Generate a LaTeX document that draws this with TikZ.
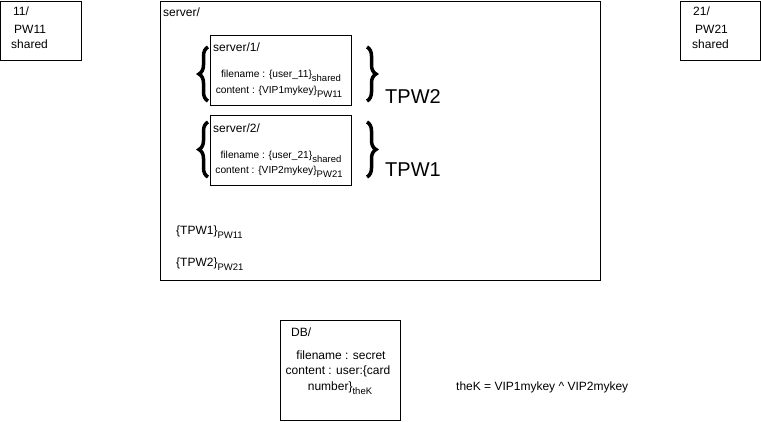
\documentclass[tikz,border=0pt]{standalone}
\usepackage{fontspec}
\setmainfont{Liberation Sans}
\usetikzlibrary{decorations.pathreplacing}

\tikzset{
  box/.style={draw,line width=1pt},
  txt/.style={inner sep=0pt,font=\fontsize{12}{14}\selectfont},
  small/.style={inner sep=0pt,font=\fontsize{10.2}{12}\selectfont},
  big/.style={inner sep=0pt,font=\fontsize{20}{24}\selectfont},
  curly/.style={decorate,decoration={brace,amplitude=9pt},line width=3.5pt},
}
\newcommand{\lowsub}[1]{\raisebox{-0.35em}{\fontsize{9.5}{11}\selectfont #1}}

\begin{document}
\begin{tikzpicture}[x=1pt,y=-1pt]
\useasboundingbox (0,0) rectangle (761,421);

%11
\draw[box] (0.5,1) rectangle (81,60);
\node[txt,anchor=west] (u11a) at (13,11) {11/};
\node[txt,anchor=west] (u11b) at (14,29) {PW11};
\node[txt,anchor=west] (u11c) at (11,44) {shared};

%21
\draw[box] (680.5,1) rectangle (760.5,60);
\node[txt,anchor=west] (u21a) at (693,11) {21/};
\node[txt,anchor=west] (u21b) at (695,29) {PW21};
\node[txt,anchor=west] (u21c) at (692,44) {shared};

%server
\draw[box] (160.5,1) rectangle (600.5,280.5);
\node[txt,anchor=west] (srv) at (163,12) {server/};

%server/1
\draw[box] (210.5,35.5) rectangle (351,105.5);
\node[txt,anchor=west] (s1) at (213,47) {server/1/};
\node[small] (s1f) at (281,76) {filename : \{user\_11\}\lowsub{shared}};
\node[small] (s1c) at (279,92) {content : \{VIP1mykey\}\lowsub{PW11}};
\draw[curly] (208,101) -- (208,47);
\draw[curly] (367,47) -- (367,101);
\node[big,anchor=west] (tpw2) at (385,97) {TPW2};

%server/2
\draw[box] (210.5,115.5) rectangle (351,185.5);
\node[txt,anchor=west] (s2) at (213,128) {server/2/};
\node[small] (s2f) at (281,157) {filename : \{user\_21\}\lowsub{shared}};
\node[small] (s2c) at (279,172) {content : \{VIP2mykey\}\lowsub{PW21}};
\draw[curly] (208,177) -- (208,122);
\draw[curly] (367,122) -- (367,177);
\node[big,anchor=west] (tpw1) at (385,170) {TPW1};

\node[txt,anchor=west] (k1) at (176,232) {\{TPW1\}\lowsub{PW11}};
\node[txt,anchor=west] (k2) at (176,264) {\{TPW2\}\lowsub{PW21}};

%DB
\draw[box] (280.5,320.5) rectangle (400.5,420.5);
\node[txt,anchor=west] (db) at (291,332) {DB/};
\node[txt] (dbf) at (341,355) {filename : secret};
\node[txt] (dbc) at (338,371) {content : user:\{card};
\node[txt] (dbn) at (340,388) {number\}\lowsub{theK}};

\node[txt,anchor=west] (thek) at (456,387) {theK = VIP1mykey \^{} VIP2mykey};

\end{tikzpicture}
\end{document}
